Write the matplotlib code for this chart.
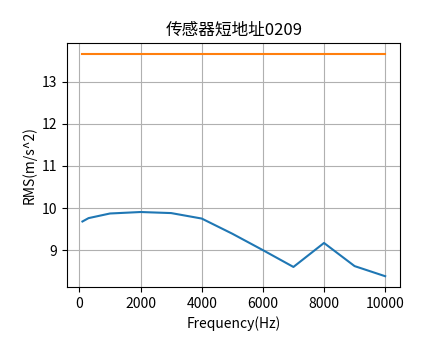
import numpy as np
import matplotlib
matplotlib.use("Agg")
import matplotlib.pyplot as plt

plt.rcParams['font.family'] = ['Noto Sans CJK SC', 'DejaVu Sans']
plt.rcParams['axes.unicode_minus'] = False

freq = [100, 300, 1000, 2000, 3000, 4000, 5000, 6000, 7000, 8000, 9000, 10000]
rms = [9.68, 9.76, 9.87, 9.905, 9.88, 9.75, 9.39, 9.0, 8.6, 9.17, 8.62, 8.38]
limit = [13.65] * len(freq)

fig = plt.figure(figsize=(4.44, 3.59), dpi=100)
ax = fig.add_axes([67.3 / 444, (359 - 287.3) / 359, (400.3 - 67.3) / 444, (287.3 - 43.3) / 359])

ax.plot(freq, rms)
ax.plot(freq, limit)

ax.set_title('传感器短地址0209')
ax.set_xlabel('Frequency(Hz)')
ax.set_ylabel('RMS(m/s^2)')
ax.grid(True)

fig.savefig("out.png", dpi=100)
